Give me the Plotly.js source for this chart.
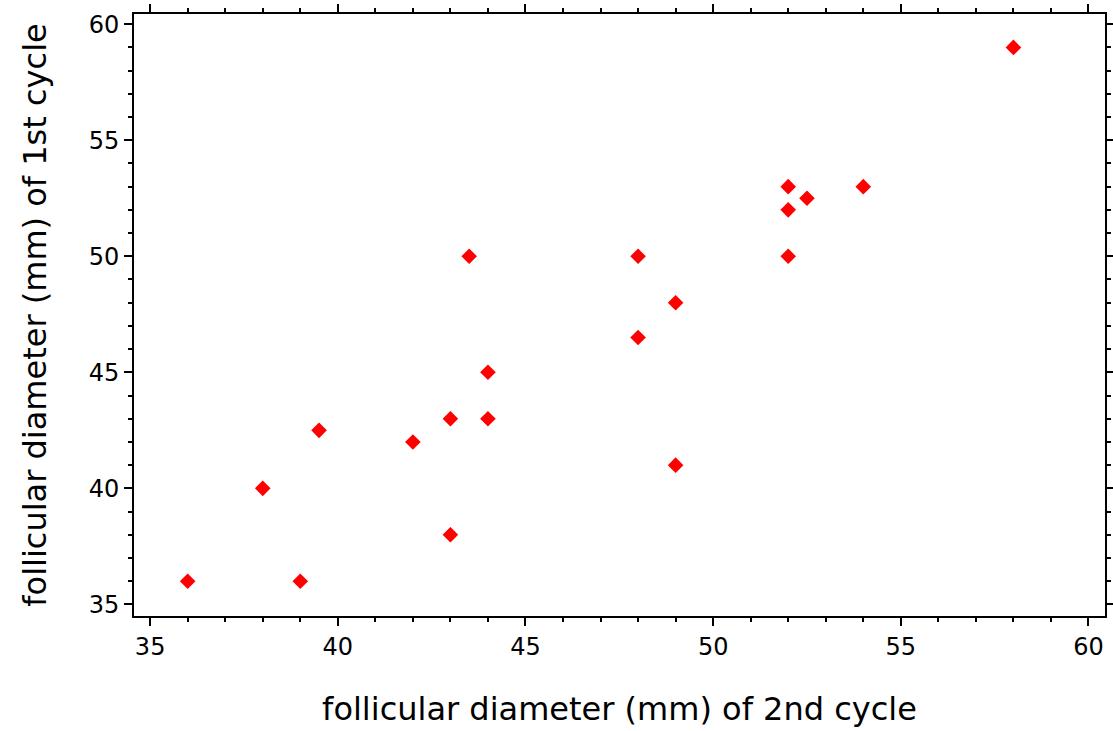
<!DOCTYPE html>
<html>
<head>
<meta charset="utf-8">
<script src="https://cdn.plot.ly/plotly-3.0.1.min.js"></script>
<style>html,body{margin:0;padding:0;background:#fff;}#chart{width:1113px;height:731px;}</style>
</head>
<body>
<div id="chart"></div>
<script>
const secondCycle = [36, 38, 39, 39.5, 42, 43, 43, 43.5, 44, 44, 48, 48, 49, 49, 52, 52, 52, 52.5, 54, 58];
const firstCycle  = [36, 40, 36, 42.5, 42, 43, 38, 50, 45, 43, 50, 46.5, 48, 41, 53, 52, 50, 52.5, 53, 59];
const xTitle = "follicular diameter (mm) of 2nd cycle";
const yTitle = "follicular diameter (mm) of 1st cycle";

const FONT = "DejaVu Sans, Verdana, sans-serif";
const axisCommon = {
  showgrid: false, zeroline: false,
  showline: true, linecolor: "black", linewidth: 2, mirror: "allticks",
  ticks: "outside", ticklen: 8, tickwidth: 2, tickcolor: "black",
  dtick: 5,
  tickfont: {family: FONT, size: 24, color: "black"},
  minor: {dtick: 1, ticks: "outside", ticklen: 4, tickwidth: 2, tickcolor: "black", showgrid: false}
};

Plotly.newPlot("chart", [{
  x: secondCycle, y: firstCycle, type: "scatter", mode: "markers",
  marker: {symbol: "diamond", size: 12, color: "#ff0000"}
}], {
  width: 1113, height: 731,
  margin: {l: 134, r: 8, t: 14, b: 115},
  paper_bgcolor: "white", plot_bgcolor: "white",
  showlegend: false,
  xaxis: Object.assign({}, axisCommon, {range: [34.57, 60.44], tick0: 35,
    title: {text: xTitle, font: {family: FONT, size: 32, color: "black"}, standoff: 38}}),
  yaxis: Object.assign({}, axisCommon, {range: [34.5, 60.44], tick0: 35,
    title: {text: yTitle, font: {family: FONT, size: 32, color: "black"}, standoff: 32}})
}, {displayModeBar: false});
</script>
</body>
</html>
